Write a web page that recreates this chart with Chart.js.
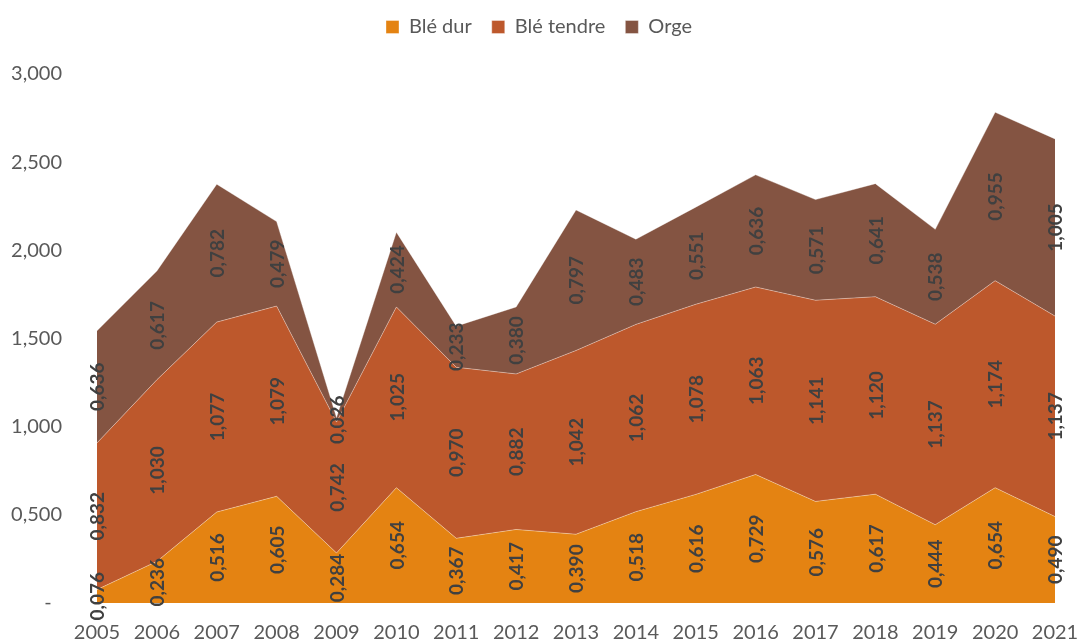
<!DOCTYPE html>
<html>
<head>
<meta charset="utf-8">
<script src="https://cdn.jsdelivr.net/npm/chart.js@4/dist/chart.umd.min.js"></script>
<style>
  body { margin: 0; background: #fff; overflow: hidden; }
  canvas { display: block; }
</style>
</head>
<body>
<canvas id="chart" width="1078" height="641"></canvas>
<script>
const years = ["2005", "2006", "2007", "2008", "2009", "2010", "2011", "2012", "2013",
               "2014", "2015", "2016", "2017", "2018", "2019", "2020", "2021"];
const bleDur = [0.076, 0.236, 0.516, 0.605, 0.284, 0.654, 0.367, 0.417, 0.390,
                0.518, 0.616, 0.729, 0.576, 0.617, 0.444, 0.654, 0.490];
const bleTendre = [0.832, 1.030, 1.077, 1.079, 0.742, 1.025, 0.970, 0.882, 1.042,
                   1.062, 1.078, 1.063, 1.141, 1.120, 1.137, 1.174, 1.137];
const orge = [0.636, 0.617, 0.782, 0.479, 0.026, 0.424, 0.233, 0.380, 0.797,
              0.483, 0.551, 0.636, 0.571, 0.641, 0.538, 0.955, 1.005];
const seriesNames = ["Blé dur", "Blé tendre", "Orge"];
const seriesColors = ["#E48312", "#BD582C", "#845442"];

const fmt = v => v.toFixed(3).replace('.', ',');

// rotated labels in the middle of each stacked band
const bandLabels = {
    id: 'bandLabels',
    afterDatasetsDraw(chart) {
        const {ctx, scales: {x, y}} = chart;
        const cum = years.map(() => 0);
        ctx.save();
        ctx.font = "bold 19px Lato";
        ctx.fillStyle = "#404040";
        ctx.textAlign = "center";
        ctx.textBaseline = "middle";
        chart.data.datasets.forEach(ds => {
            ds.data.forEach((v, i) => {
                const px = x.getPixelForValue(i);
                const py = y.getPixelForValue(cum[i] + v / 2);
                cum[i] += v;
                ctx.save();
                ctx.translate(px, py);
                ctx.rotate(-Math.PI / 2);
                ctx.fillText(fmt(v), 0, 1);
                ctx.restore();
            });
        });
        ctx.restore();
    }
};

// legend takes the room above the plot
const legendSpace = {
    id: 'legendSpace',
    beforeInit(chart) {
        const fit = chart.legend.fit;
        chart.legend.fit = function () {
            fit.bind(chart.legend)();
            this.height += 27;
        };
    }
};

const values = [bleDur, bleTendre, orge];

new Chart(document.getElementById("chart"), {
    type: 'line',
    data: {
        labels: years,
        datasets: values.map((d, i) => ({
            label: seriesNames[i],
            data: d,
            fill: i === 0 ? 'origin' : '-1',
            backgroundColor: seriesColors[i],
            borderColor: "rgba(255,255,255,0.45)",
            borderWidth: 0.8,
            pointRadius: 0,
            tension: 0
        }))
    },
    options: {
        responsive: false,
        animation: false,
        layout: { padding: { top: -4, right: 0, left: 0, bottom: 0 } },
        plugins: {
            legend: {
                display: true,
                position: 'top',
                labels: {
                    boxWidth: 13,
                    boxHeight: 13,
                    padding: 20,
                    color: "#595959",
                    font: { family: "Lato", size: 20 }
                }
            },
            tooltip: { enabled: false }
        },
        scales: {
            x: {
                offset: false,
                grid: { display: false, drawTicks: false },
                border: { display: false },
                ticks: {
                    color: "#595959",
                    padding: 18,
                    maxRotation: 0,
                    autoSkip: false,
                    font: { family: "Lato", size: 20 }
                },
                afterFit: s => {
                    s.height = 38;
                    s.paddingLeft = 0;
                    s.paddingRight = 23;
                }
            },
            y: {
                stacked: true,
                min: 0,
                max: 3,
                grid: { display: false, drawTicks: false },
                border: { display: false },
                ticks: {
                    stepSize: 0.5,
                    color: "#595959",
                    padding: 35,
                    font: { family: "Lato", size: 20 },
                    callback: v => v === 0 ? '-  ' : fmt(v)
                },
                afterFit: s => {
                    s.width = 97;
                    s.paddingTop = 74;
                    s.paddingBottom = 12;
                }
            }
        }
    },
    plugins: [bandLabels, legendSpace]
});
</script>
</body>
</html>
